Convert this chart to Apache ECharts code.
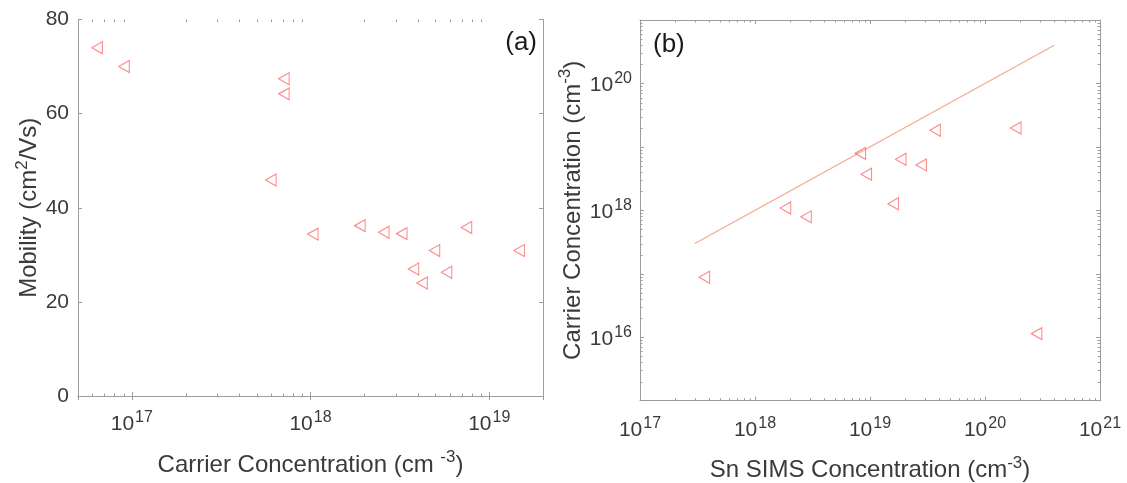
<!DOCTYPE html>
<html>
<head>
<meta charset="utf-8">
<script src="https://cdn.jsdelivr.net/npm/echarts@6/dist/echarts.min.js"></script>
<style>
  html, body { margin: 0; padding: 0; background: #ffffff; }
  #chart { width: 1127px; height: 483px; }
</style>
</head>
<body>
<div id="chart"></div>
<script>
// Panel (a): Hall mobility against carrier concentration
const carrierConcA = [6.4e16, 9.05e16, 7.1e17, 7.1e17, 6.0e17, 1.03e18, 1.89e18, 2.57e18, 3.24e18, 7.46e18, 4.94e18, 3.77e18, 4.21e18, 5.77e18, 1.47e19];
const mobilityA    = [74.0, 70.0, 67.4, 64.2, 45.9, 34.4, 36.2, 34.8, 34.5, 35.8, 30.9, 27.0, 24.0, 26.3, 30.9];

// Panel (b): carrier concentration against Sn SIMS concentration
const snSimsB      = [3.63e17, 1.84e18, 2.78e18, 8.24e18, 9.29e18, 1.59e19, 1.85e19, 2.79e19, 3.68e19, 1.85e20, 2.81e20];
const carrierConcB = [8.8e16, 1.09e18, 7.9e17, 7.9e18, 3.7e18, 1.27e18, 6.4e18, 5.2e18, 1.83e19, 1.99e19, 1.14e16];

// n = [Sn] guide line
const guideX = [3e17, 4e20];
const guideY = [3e17, 4e20];

// Tick labels
const mobilityTicks = [0, 20, 40, 60, 80];
const expTicksAX = [17, 18, 19];
const expTicksBX = [17, 18, 19, 20, 21];
const expTicksBY = [16, 18, 20];

// Axis ranges
const rangeAX = [5e16, 2e19];
const rangeBX = [1e17, 1e21];
const rangeBY = [1e15, 1e21];

const TEXT = '#3a3a3a';
const AXIS = '#9c9c9c';
const MARK = '#ff6a6a';
const GUIDE = '#f3a98c';
const FONT = '"Liberation Sans", Arial, Helvetica, sans-serif';

const gridA = { left: 78, top: 19.5, width: 465, height: 376.5 };
const gridB = { left: 640, top: 20, width: 460, height: 380.7 };

function expOf(v) {
  const e = Math.log10(v);
  const r = Math.round(e);
  return Math.abs(e - r) < 1e-6 ? r : null;
}
function powLabel(list) {
  return function (v) {
    const e = expOf(v);
    return (e !== null && list.indexOf(e) >= 0) ? '{b|10}{s|' + e + '}' : '';
  };
}
const tickRich = {
  b: { fontSize: 21, fontFamily: FONT, color: TEXT, lineHeight: 25, verticalAlign: 'bottom', padding: [7, 0, 0, 0] },
  s: { fontSize: 16, fontFamily: FONT, color: TEXT, lineHeight: 16, verticalAlign: 'top', padding: [0, 0, 0, 1] }
};
const nameRich = {
  t: { fontSize: 24, fontFamily: FONT, color: TEXT, lineHeight: 28, verticalAlign: 'bottom', padding: [6, 0, 0, 0] },
  s: { fontSize: 17, fontFamily: FONT, color: TEXT, lineHeight: 17, verticalAlign: 'top' }
};

const lineStyle = { color: AXIS, width: 1 };
const tickIn = (len) => ({ show: true, inside: true, length: len, lineStyle: { color: AXIS, width: 1 } });

function logAxis(range, extra) {
  return Object.assign({
    type: 'log', logBase: 10, min: range[0], max: range[1],
    axisLine: { show: true, lineStyle: lineStyle },
    axisTick: tickIn(4),
    splitLine: { show: false },
    minorTick: { show: false }
  }, extra);
}

const chart = echarts.init(document.getElementById('chart'), null, { renderer: 'canvas' });

const option = {
  animation: false,
  backgroundColor: '#ffffff',
  grid: [
    Object.assign({ outerBoundsMode: 'none', containLabel: false }, gridA),
    Object.assign({ outerBoundsMode: 'none', containLabel: false }, gridB)
  ],
  xAxis: [
    logAxis(rangeAX, {
      gridIndex: 0, position: 'bottom',
      axisLabel: { margin: 14, formatter: powLabel(expTicksAX), rich: tickRich, showMinLabel: true, showMaxLabel: true, hideOverlap: false },
      name: '{t|Carrier Concentration (cm }{s|-3}{t|)}', nameLocation: 'middle', nameGap: 53,
      nameTextStyle: { rich: nameRich }
    }),
    logAxis(rangeAX, { gridIndex: 0, position: 'top', axisLabel: { show: false } }),
    logAxis(rangeBX, {
      gridIndex: 1, position: 'bottom',
      axisLabel: { margin: 15, formatter: powLabel(expTicksBX), rich: tickRich, showMinLabel: true, showMaxLabel: true, hideOverlap: false },
      name: '{t|Sn SIMS Concentration (cm}{s|-3}{t|)}', nameLocation: 'middle', nameGap: 54,
      nameTextStyle: { rich: nameRich }
    }),
    logAxis(rangeBX, { gridIndex: 1, position: 'top', axisLabel: { show: false } })
  ],
  yAxis: [
    {
      type: 'value', gridIndex: 0, position: 'left',
      min: mobilityTicks[0], max: mobilityTicks[mobilityTicks.length - 1],
      interval: mobilityTicks[1] - mobilityTicks[0],
      axisLine: { show: true, lineStyle: lineStyle },
      axisTick: tickIn(4),
      splitLine: { show: false },
      axisLabel: { margin: 9, fontSize: 21, fontFamily: FONT, color: TEXT },
      name: '{t|Mobility (cm}{s|2}{t|/Vs)}', nameLocation: 'middle', nameRotate: 90, nameGap: 34,
      nameTextStyle: { rich: nameRich }
    },
    {
      type: 'value', gridIndex: 0, position: 'right',
      min: mobilityTicks[0], max: mobilityTicks[mobilityTicks.length - 1],
      interval: mobilityTicks[1] - mobilityTicks[0],
      axisLine: { show: true, lineStyle: lineStyle },
      axisTick: tickIn(4),
      splitLine: { show: false },
      axisLabel: { show: false }
    },
    logAxis(rangeBY, {
      gridIndex: 1, position: 'left',
      axisLabel: { margin: 8, formatter: powLabel(expTicksBY), rich: tickRich, showMinLabel: true, showMaxLabel: true, hideOverlap: false },
      name: '{t|Carrier Concentration (cm}{s|-3}{t|)}', nameLocation: 'middle', nameRotate: 90, nameGap: 55,
      nameTextStyle: { rich: nameRich }
    }),
    logAxis(rangeBY, { gridIndex: 1, position: 'right', axisLabel: { show: false } })
  ],
  series: [
    {
      type: 'scatter', xAxisIndex: 0, yAxisIndex: 0,
      data: carrierConcA.map((x, i) => [x, mobilityA[i]]),
      symbol: 'triangle', symbolRotate: 90, symbolSize: [12, 10.5],
      itemStyle: { color: 'rgba(255,255,255,0)', borderColor: MARK, borderWidth: 1.1 },
      emphasis: { disabled: true }, silent: true
    },
    {
      type: 'line', xAxisIndex: 2, yAxisIndex: 2,
      data: guideX.map((x, i) => [x, guideY[i]]),
      symbol: 'none', lineStyle: { color: GUIDE, width: 1.2 },
      emphasis: { disabled: true }, silent: true, z: 1
    },
    {
      type: 'scatter', xAxisIndex: 2, yAxisIndex: 2,
      data: snSimsB.map((x, i) => [x, carrierConcB[i]]),
      symbol: 'triangle', symbolRotate: 90, symbolSize: [12, 10.5],
      itemStyle: { color: 'rgba(255,255,255,0)', borderColor: MARK, borderWidth: 1.1 },
      emphasis: { disabled: true }, silent: true, z: 3
    }
  ]
};

chart.setOption(option);

// Logarithmic minor ticks (2..9 of each decade), placed through the axes' scales
function minorValues(lo, hi) {
  const out = [];
  for (let e = Math.floor(Math.log10(lo)); e <= Math.ceil(Math.log10(hi)); e++) {
    for (let m = 2; m <= 9; m++) {
      const v = m * Math.pow(10, e);
      if (v > lo * 1.0001 && v < hi * 0.9999) out.push(v);
    }
  }
  return out;
}
const minorLen = 2.5;
const shapes = [];
function addLine(x1, y1, x2, y2) {
  shapes.push({ type: 'line', silent: true, shape: { x1: x1, y1: y1, x2: x2, y2: y2 }, style: { stroke: AXIS, lineWidth: 1 } });
}
function xMinor(xAxisIndex, range, gridRect) {
  const top = gridRect.top, bottom = gridRect.top + gridRect.height;
  minorValues(range[0], range[1]).forEach(function (v) {
    const px = Math.round(chart.convertToPixel({ xAxisIndex: xAxisIndex }, v)) + 0.5;
    addLine(px, bottom, px, bottom - minorLen);
    addLine(px, top, px, top + minorLen);
  });
}
function yMinor(yAxisIndex, range, gridRect) {
  const left = gridRect.left, right = gridRect.left + gridRect.width;
  minorValues(range[0], range[1]).forEach(function (v) {
    const py = Math.round(chart.convertToPixel({ yAxisIndex: yAxisIndex }, v)) + 0.5;
    addLine(left, py, left + minorLen, py);
    addLine(right, py, right - minorLen, py);
  });
}
xMinor(0, rangeAX, gridA);
xMinor(2, rangeBX, gridB);
yMinor(2, rangeBY, gridB);

// Panel letters
shapes.push({
  type: 'text', silent: true, x: 537, y: 43,
  style: { text: '(a)', font: '26px ' + FONT, fill: '#1a1a1a', align: 'right', verticalAlign: 'middle' }
});
shapes.push({
  type: 'text', silent: true, x: 653, y: 45,
  style: { text: '(b)', font: '26px ' + FONT, fill: '#1a1a1a', align: 'left', verticalAlign: 'middle' }
});

chart.setOption({ graphic: { elements: shapes } });
</script>
</body>
</html>
